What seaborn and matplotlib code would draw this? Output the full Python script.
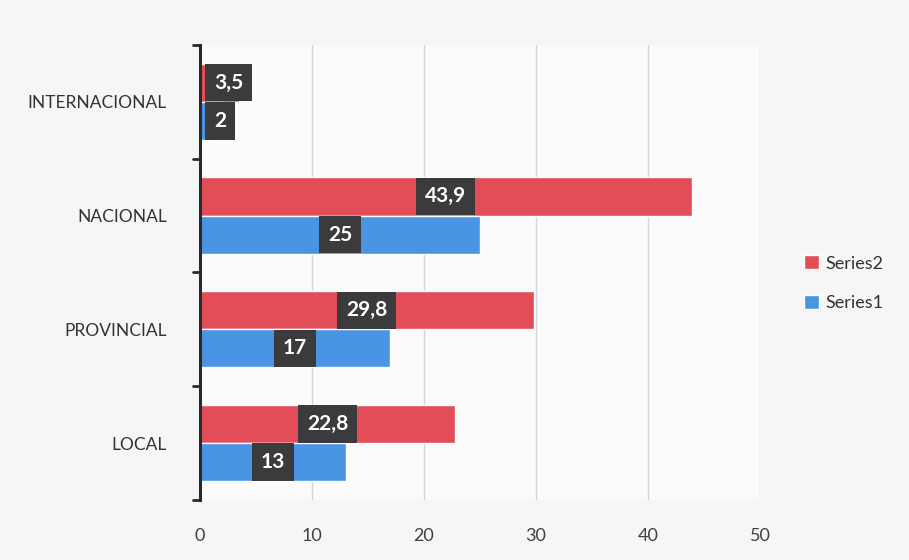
import matplotlib
matplotlib.use("Agg")
import matplotlib.pyplot as plt
import seaborn as sns
import pandas as pd

# Chart data
categories = ["INTERNACIONAL", "NACIONAL", "PROVINCIAL", "LOCAL"]
series2 = [3.5, 43.9, 29.8, 22.8]
series1 = [2, 25, 17, 13]
x_ticks = [0, 10, 20, 30, 40, 50]

df = pd.DataFrame({
    "categoria": categories * 2,
    "valor": series2 + series1,
    "serie": ["Series2"] * len(categories) + ["Series1"] * len(categories),
})

sns.set_style("white")
plt.rcParams["font.family"] = ["Lato", "DejaVu Sans"]

palette = {"Series2": "#e34d57", "Series1": "#4a94e4"}

fig = plt.figure(figsize=(9.09, 5.6), dpi=100, facecolor="#f6f6f6")
ax = fig.add_axes([0.22, 0.107, 0.616, 0.813])
ax.set_facecolor("#fbfbfb")

sns.barplot(data=df, x="valor", y="categoria", hue="serie",
            order=categories, hue_order=["Series2", "Series1"],
            palette=palette, orient="h", width=0.67, saturation=1,
            ax=ax, zorder=2)

ax.set_xlim(0, 50)
ax.set_ylim(3.5, -0.5)

# Value labels in dark boxes at the centre of each bar; short bars get
# their label pushed right so the box stays inside the plot area
box = dict(boxstyle="square,pad=0.42", fc="#3b3b3d", ec="none")
for container in ax.containers:
    for bar in container:
        w = bar.get_width()
        y = bar.get_y() + bar.get_height() / 2
        label = f"{w:g}".replace(".", ",")
        if w < 8:
            ax.annotate(label, xy=(0, y), xytext=(10, 0), textcoords="offset points",
                        ha="left", va="center", color="white", fontsize=15,
                        fontweight="bold", zorder=4, bbox=box)
        else:
            ax.text(w / 2, y, label, ha="center", va="center",
                    color="white", fontsize=15, fontweight="bold", zorder=4,
                    bbox=box)

ax.set_xticks(x_ticks)
ax.set_xticklabels([str(t) for t in x_ticks], fontsize=13, color="#404040")
ax.tick_params(axis="x", length=0, pad=20)
ax.grid(axis="x", color="#d4d4d4", linewidth=1, zorder=0)

# Category ticks sit between groups on the vertical axis
ax.set_yticks(range(len(categories)))
ax.set_yticklabels(categories, fontsize=12.5, color="#333333")
ax.tick_params(axis="y", length=0, pad=24)
for b in [-0.5, 0.5, 1.5, 2.5, 3.5]:
    ax.plot([-0.012, 0], [b, b], transform=ax.get_yaxis_transform(),
            color="#2a2a2a", lw=2, clip_on=False, zorder=5)

for side in ["top", "right", "bottom"]:
    ax.spines[side].set_visible(False)
ax.spines["left"].set_color("#2a2a2a")
ax.spines["left"].set_linewidth(2.2)
ax.spines["left"].set_zorder(5)

ax.set_xlabel("")
ax.set_ylabel("")

leg = ax.legend(loc="center left", bbox_to_anchor=(1.05, 0.476), frameon=False,
                fontsize=13, handlelength=0.8, handleheight=0.8,
                labelspacing=1.3, handletextpad=0.4)
for t in leg.get_texts():
    t.set_color("#333333")

fig.savefig("out.png", dpi=100, facecolor=fig.get_facecolor())
